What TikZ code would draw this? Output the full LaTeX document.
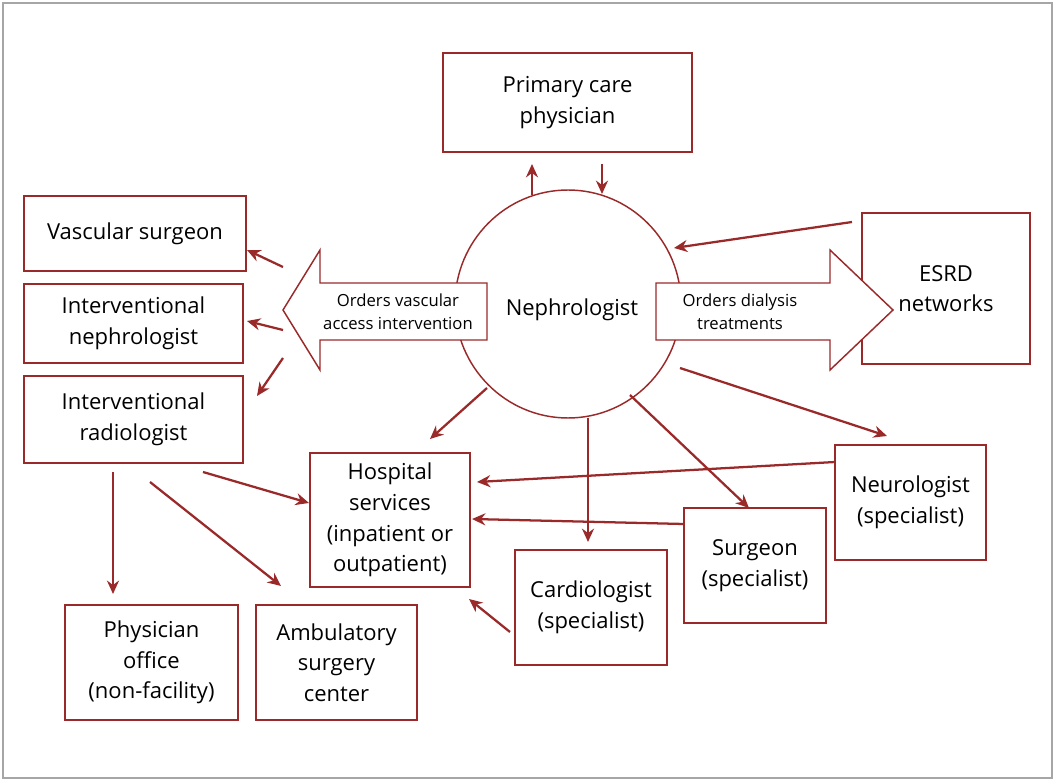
\documentclass[tikz,border=0pt]{standalone}
\usepackage{fontspec}
\setmainfont{Open Sans}
\usetikzlibrary{arrows.meta}
\definecolor{drc}{HTML}{9A2A2A}
\begin{document}
\begin{tikzpicture}[x=0.75pt,y=-0.75pt,
 dr/.style={draw=drc,line width=1.1pt},
 con/.style={dr,line width=1.7pt,-{Stealth[length=10pt,width=9pt]}},
 small/.style={font=\fontsize{12.5}{17.5}\selectfont,align=center}]
\useasboundingbox (0,0) rectangle (1058,784);
\draw[gray!70,line width=1pt] (3,3) rectangle (1052,778);
\newcommand\bx[6]{\draw[dr] (#2,#3) rectangle (#4,#5); \node[align=center,font=\fontsize{16.5}{23}\selectfont] (#1) at ({(#2+#4)/2},{(#3+#5)/2}) {#6};}
\bx{pcp}{443}{53}{692}{152}{Primary care\\physician}
\bx{vs}{24}{196}{246}{271}{Vascular surgeon}
\bx{in}{24}{284}{243}{363}{Interventional\\nephrologist}
\bx{ir}{24}{376}{243}{463}{Interventional\\radiologist}
\bx{esrd}{862}{213}{1030}{364}{ESRD\\networks}
\bx{hosp}{310}{453}{470}{587}{Hospital\\services\\(inpatient or\\outpatient)}
\bx{neu}{835}{445}{986}{560}{Neurologist\\(specialist)}
\bx{sur}{684}{508}{826}{623}{Surgeon\\(specialist)}
\bx{car}{515}{550}{667}{665}{Cardiologist\\(specialist)}
\bx{po}{65}{605}{238}{720}{Physician\\office\\(non-facility)}
\bx{amb}{256}{605}{417}{720}{Ambulatory\\surgery\\center}
\draw[dr] (568,304) circle[x radius=113,y radius=114];
\draw[dr,fill=white] (283,310)--(320,250)--(320,283)--(487,283)--(487,340)--(320,340)--(320,370)--cycle;
\draw[dr,fill=white] (893,310)--(830,250)--(830,283)--(656,283)--(656,340)--(830,340)--(830,370)--cycle;
\node[small] (la) at (398,312) {Orders vascular\\access intervention};
\node[small] (ra) at (740,312) {Orders dialysis\\treatments};
\node[font=\fontsize{16.5}{20}\selectfont] (neph) at (572,310) {Nephrologist};
\draw[con] (532,195)--(532,164);
\draw[con] (602,164)--(602,194);
\draw[con] (852,222)--(674,248);
\draw[con] (283,267)--(247,250);
\draw[con] (283,330)--(247,321);
\draw[con] (283,358)--(257,396);
\draw[con] (487,388)--(430,439);
\draw[con] (588,418)--(588,542);
\draw[con] (630,395)--(749,508);
\draw[con] (680,368)--(887,436);
\draw[con] (835,462)--(477,482);
\draw[con] (684,524)--(472,519);
\draw[con] (510,632)--(469,599);
\draw[con] (203,472)--(309,503);
\draw[con] (150,482)--(281,586);
\draw[con] (113,472)--(113,594);
\end{tikzpicture}
\end{document}
